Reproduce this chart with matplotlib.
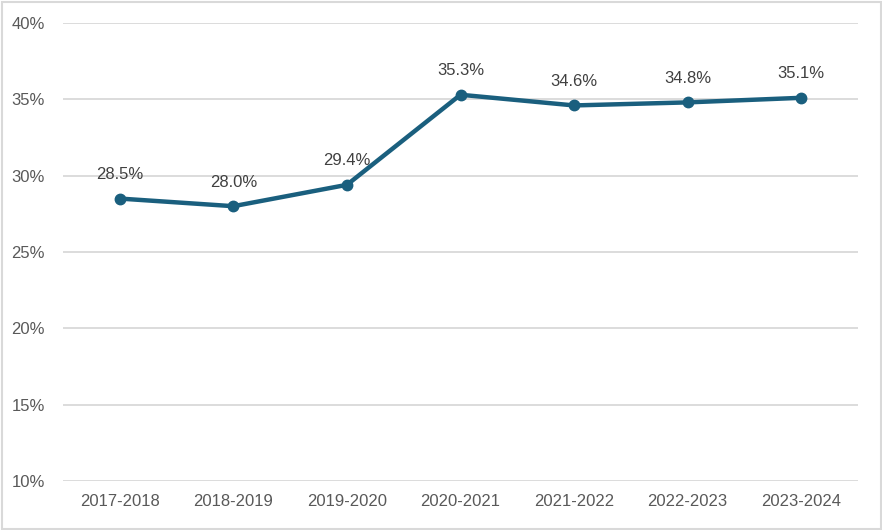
import matplotlib
matplotlib.use("Agg")
import matplotlib.pyplot as plt
from matplotlib.patches import Rectangle

categories = ["2017-2018", "2018-2019", "2019-2020", "2020-2021", "2021-2022", "2022-2023", "2023-2024"]
values = [28.5, 28.0, 29.4, 35.3, 34.6, 34.8, 35.1]
yticks = [10, 15, 20, 25, 30, 35, 40]

plt.rcParams['font.family'] = ['Liberation Sans', 'DejaVu Sans']

W, H = 882, 530
fig = plt.figure(figsize=(W/100, H/100), dpi=100)
ax = fig.add_axes([63/W, 1-481/H, (858-63)/W, (481-23)/H])

color = '#1a5f7e'
x = list(range(len(categories)))
ax.plot(x, values, color=color, lw=3.2, marker='o', ms=7.5, zorder=3, solid_capstyle='round')
for xi, v in zip(x, values):
    ax.annotate(f"{v:.1f}%", (xi, v), xytext=(0, 12), textcoords='offset points',
                ha='center', va='bottom', fontsize=12, color='#404040')

ax.set_xlim(-0.5, len(categories)-0.5)
ax.set_ylim(10, 40)
ax.set_yticks(yticks)
ax.set_yticklabels([f"{t}%" for t in yticks])
ax.set_xticks(x)
ax.set_xticklabels(categories)
ax.tick_params(axis='both', length=0, labelsize=12, labelcolor='#595959')
ax.tick_params(axis='y', pad=13)
ax.tick_params(axis='x', pad=9)
ax.grid(axis='y', color='#d9d9d9', lw=1.3)
ax.set_axisbelow(True)
for s in ax.spines.values():
    s.set_visible(False)

fig.patches.append(Rectangle((1.5/W, 1.5/H), 1-3/W, 1-3/H, transform=fig.transFigure,
                             fill=False, edgecolor='#d9d9d9', lw=1.5))
fig.savefig("out.png", dpi=100)
